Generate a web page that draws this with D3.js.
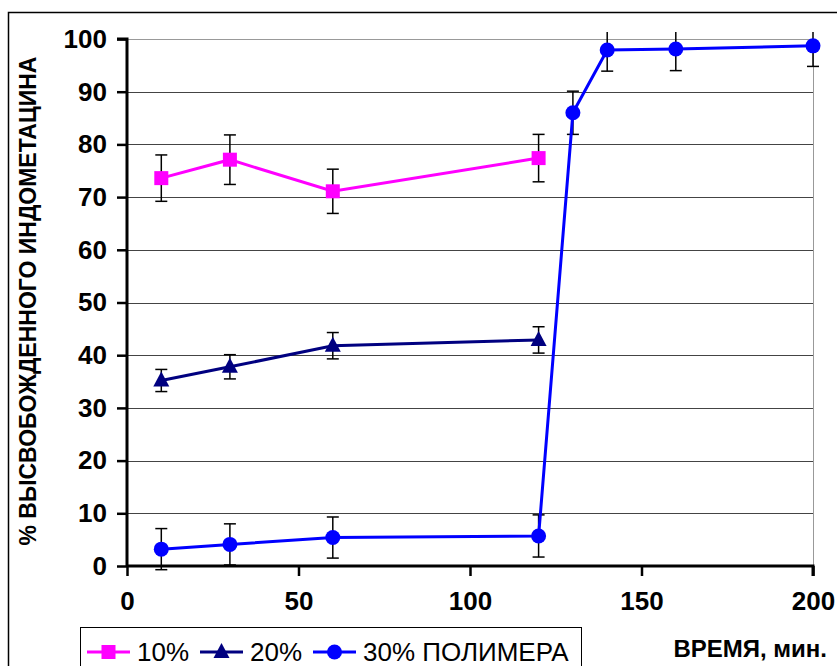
<!DOCTYPE html>
<html>
<head>
<meta charset="utf-8">
<script src="https://cdn.jsdelivr.net/npm/d3@7"></script>
<style>
  body { margin: 0; background: #fff; }
  svg { display: block; font-family: "Liberation Sans", Arial, sans-serif; }
</style>
</head>
<body>
<div id="chart"></div>
<script>
// data
var times10 = [10, 30, 60, 120];
var values10 = [73.6, 77.1, 71.1, 77.4];
var errors10 = [4.4, 4.7, 4.2, 4.5];

var times20 = [10, 30, 60, 120];
var values20 = [35.2, 37.8, 41.8, 42.9];
var errors20 = [2.1, 2.3, 2.5, 2.5];

var times30 = [10, 30, 60, 120, 130, 140, 160, 200];
var values30 = [3.2, 4.1, 5.4, 5.7, 86.0, 97.9, 98.1, 98.7];
var errors30 = [3.9, 3.9, 3.9, 4.0, 4.1, 4.0, 4.1, 3.9];

var xTicks = [0, 50, 100, 150, 200];
var yTicks = [0, 10, 20, 30, 40, 50, 60, 70, 80, 90, 100];
var legendLabels = ["10%", "20%", "30% ПОЛИМЕРА"];

var width = 837, height = 666;
var plotLeft = 127, plotRight = 813, plotTop = 39, plotBottom = 566;

var svg = d3.select("#chart").append("svg")
	.attr("width", width)
	.attr("height", height);

var x = d3.scaleLinear().domain([0, 200]).range([plotLeft, plotRight]);
var y = d3.scaleLinear().domain([0, 100]).range([plotBottom, plotTop]);

// outer chart border (cropped on right/bottom)
svg.append("path")
	.attr("d", "M8.5," + height + " L8.5,12.5 L" + width + ",12.5")
	.style("fill", "none").style("stroke", "#000").style("stroke-width", 1.5);

// gridlines
svg.append("g").selectAll("line")
	.data(yTicks.filter(function(d) { return d > 0; }))
	.enter().append("line")
	.attr("x1", plotLeft).attr("x2", plotRight)
	.attr("y1", function(d) { return Math.round(y(d)) + 0.5; })
	.attr("y2", function(d) { return Math.round(y(d)) + 0.5; })
	.style("stroke", function(d) { return d == 100 ? "#999" : "#444"; })
	.style("stroke-width", 1);

// right border of plot area
svg.append("line")
	.attr("x1", plotRight + 0.5).attr("x2", plotRight + 0.5)
	.attr("y1", plotTop).attr("y2", plotBottom)
	.style("stroke", "#999").style("stroke-width", 1);

// axes
var yAxis = svg.append("g")
	.attr("transform", "translate(" + plotLeft + ",0)")
	.call(d3.axisLeft(y).tickValues(yTicks).tickSize(10).tickPadding(10));
var xAxis = svg.append("g")
	.attr("transform", "translate(0," + plotBottom + ")")
	.call(d3.axisBottom(x).tickValues(xTicks).tickSize(10).tickPadding(16));

[yAxis, xAxis].forEach(function(a) {
	a.select(".domain").style("stroke", "#000").style("stroke-width", 3);
	a.selectAll(".tick line").style("stroke", "#000").style("stroke-width", 2.5);
	a.selectAll(".tick text")
		.style("font-family", "'Liberation Sans', Arial, sans-serif")
		.style("font-size", "26px").style("font-weight", "bold").style("fill", "#000");
});
yAxis.select(".domain").attr("d", "M-10," + (plotBottom + 0) + "H0V" + plotTop + "H-10");
yAxis.select(".domain").attr("d", "M0," + plotBottom + "V" + plotTop + "H-10");
xAxis.select(".domain").attr("d", "M" + plotLeft + ",0H" + plotRight + "V10");

// axis titles
svg.append("text")
	.attr("transform", "translate(36,301) rotate(-90)")
	.attr("text-anchor", "middle")
	.style("font-size", "23px").style("font-weight", "bold")
	.text("% ВЫСВОБОЖДЕННОГО ИНДОМЕТАЦИНА");
svg.append("text")
	.attr("x", 827).attr("y", 657)
	.attr("text-anchor", "end")
	.style("font-size", "24px").style("font-weight", "bold")
	.text("ВРЕМЯ, мин.");

// clip for error bars running past 100
svg.append("clipPath").attr("id", "clip")
	.append("rect").attr("x", plotLeft).attr("y", 32)
	.attr("width", plotRight - plotLeft + 20).attr("height", plotBottom - 32 + 20);

var series = [
	{t: times10, v: values10, e: errors10, color: "#FF00FF", shape: "square"},
	{t: times20, v: values20, e: errors20, color: "#000080", shape: "triangle"},
	{t: times30, v: values30, e: errors30, color: "#0000FF", shape: "circle"}
];

function drawMarker(g, shape, color, cx, cy) {
	if (shape == "square") {
		g.append("rect").attr("x", cx - 7).attr("y", cy - 7)
			.attr("width", 14).attr("height", 14).style("fill", color);
	} else if (shape == "triangle") {
		g.append("path")
			.attr("d", "M" + cx + "," + (cy - 9) + "L" + (cx + 8) + "," + (cy + 6) + "L" + (cx - 8) + "," + (cy + 6) + "Z")
			.style("fill", color);
	} else {
		g.append("circle").attr("cx", cx).attr("cy", cy).attr("r", 7.5).style("fill", color);
	}
}

series.forEach(function(s) {
	var pts = s.t.map(function(t, i) { return {t: t, v: s.v[i], e: s.e[i]}; });
	var g = svg.append("g");
	var eb = g.append("g").attr("clip-path", "url(#clip)");
	pts.forEach(function(p) {
		var cx = x(p.t), y1 = y(p.v + p.e), y2 = y(p.v - p.e);
		eb.append("line").attr("x1", cx).attr("x2", cx).attr("y1", y1).attr("y2", y2)
			.style("stroke", "#000").style("stroke-width", 1.5);
		[y1, y2].forEach(function(yy) {
			eb.append("line").attr("x1", cx - 6).attr("x2", cx + 6).attr("y1", yy).attr("y2", yy)
				.style("stroke", "#000").style("stroke-width", 1.5);
		});
	});
	g.append("path").datum(pts)
		.attr("d", d3.line().x(function(d) { return x(d.t); }).y(function(d) { return y(d.v); }))
		.style("fill", "none").style("stroke", s.color).style("stroke-width", 3);
	pts.forEach(function(p) { drawMarker(g, s.shape, s.color, x(p.t), y(p.v)); });
});

// legend
var leg = svg.append("g");
leg.append("rect").attr("x", 80.5).attr("y", 627.5).attr("width", 501).attr("height", 60)
	.style("fill", "#fff").style("stroke", "#000").style("stroke-width", 1);
var legX = [87, 200, 313];
series.forEach(function(s, i) {
	var lx = legX[i];
	leg.append("line").attr("x1", lx).attr("x2", lx + 43).attr("y1", 652).attr("y2", 652)
		.style("stroke", s.color).style("stroke-width", 3);
	drawMarker(leg, s.shape, s.color, lx + 21.5, 652);
	leg.append("text").attr("x", lx + 50).attr("y", 661)
		.style("font-size", "26px").text(legendLabels[i]);
});
</script>
</body>
</html>
